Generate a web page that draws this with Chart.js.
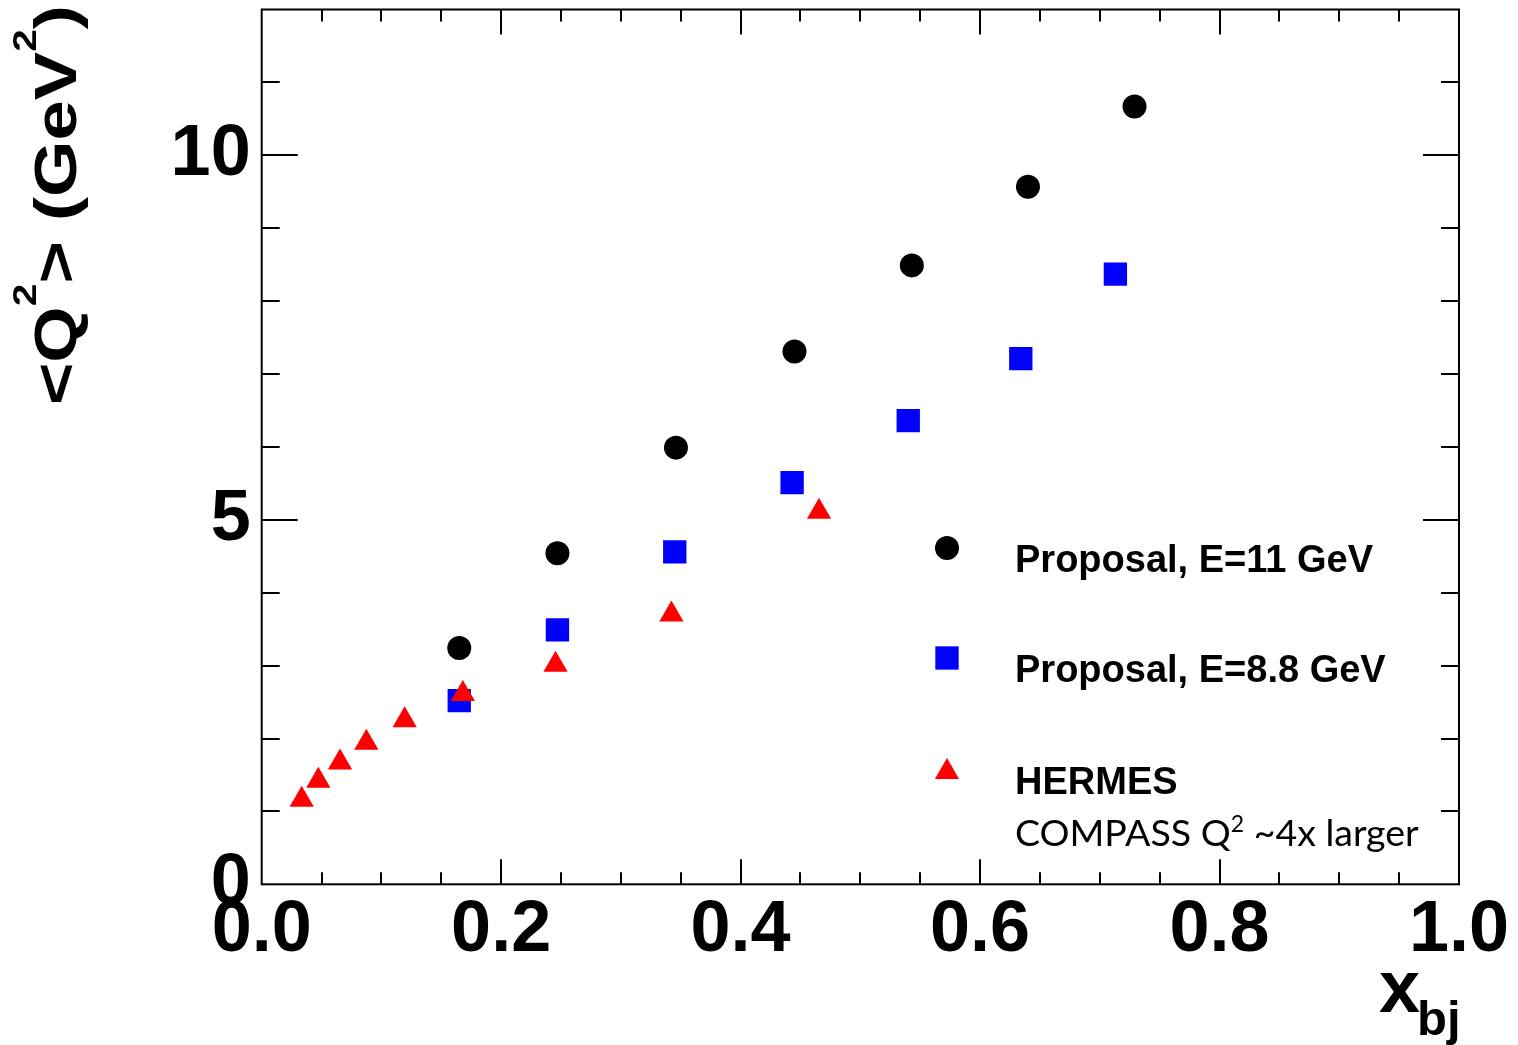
<!DOCTYPE html>
<html>
<head>
<meta charset="utf-8">
<script src="https://cdn.jsdelivr.net/npm/chart.js@4.4.1/dist/chart.umd.min.js"></script>
<style>
  html, body { margin: 0; padding: 0; background: #fff; }
  canvas { display: block; }
</style>
</head>
<body>
<canvas id="q2chart" width="1518" height="1045"></canvas>
<script>
// <Q^2> versus x_bj, two proposal beam energies and the HERMES points
var proposal11_x  = [0.165, 0.247, 0.346, 0.445, 0.543, 0.640, 0.729];
var proposal11_q2 = [3.24, 4.54, 5.99, 7.31, 8.49, 9.57, 10.67];

var proposal88_x  = [0.165, 0.247, 0.345, 0.443, 0.540, 0.634, 0.713];
var proposal88_q2 = [2.52, 3.49, 4.56, 5.51, 6.36, 7.21, 8.37];

var hermes_x  = [0.0334, 0.0473, 0.0654, 0.0874, 0.1194, 0.168, 0.2454, 0.3422, 0.4655];
var hermes_q2 = [1.16, 1.42, 1.67, 1.94, 2.25, 2.61, 3.01, 3.70, 5.11];

var x_tick_values = [0, 0.2, 0.4, 0.6, 0.8, 1.0];
var y_tick_values = [0, 5, 10];

var legend_labels = ["Proposal, E=11 GeV", "Proposal, E=8.8 GeV", "HERMES"];
var legend_note = ["COMPASS Q", "2", " ~4x larger"];

var BOLD = '"Liberation Sans", Arial, sans-serif';

function to_points(xs, ys) {
  var pts = [];
  for (var i = 0; i < xs.length; i++) { pts.push({ x: xs[i], y: ys[i] }); }
  return pts;
}

// draws a run of text pieces side by side, each with its own size and raise
function draw_pieces(ctx, pieces, x, y, family) {
  var cx = x;
  for (var i = 0; i < pieces.length; i++) {
    var p = pieces[i];
    ctx.font = p.weight + ' ' + p.size + 'px ' + family;
    ctx.fillText(p.text, cx, y - (p.raise || 0));
    cx += ctx.measureText(p.text).width;
  }
  return cx - x;
}

function pieces_width(ctx, pieces, family) {
  var w = 0;
  for (var i = 0; i < pieces.length; i++) {
    ctx.font = pieces[i].weight + ' ' + pieces[i].size + 'px ' + family;
    w += ctx.measureText(pieces[i].text).width;
  }
  return w;
}

// box around the plot with inward ticks on all four sides
var frame_plugin = {
  id: 'rootFrame',
  beforeDatasetsDraw: function(chart) {
    var ctx = chart.ctx;
    var a = chart.chartArea;
    var xs = chart.scales.x, ys = chart.scales.y;
    ctx.save();
    ctx.strokeStyle = '#000';
    ctx.lineWidth = 2;
    ctx.beginPath();
    for (var k = 1; k < 20; k++) {
      var v = k * 0.05;
      var px = Math.round(xs.getPixelForValue(v));
      var len = (k % 4 === 0) ? 25 : 12;
      ctx.moveTo(px, a.bottom); ctx.lineTo(px, a.bottom - len);
      ctx.moveTo(px, a.top); ctx.lineTo(px, a.top + len);
    }
    for (var j = 1; j < 12; j++) {
      var py = Math.round(ys.getPixelForValue(j));
      var ylen = (j % 5 === 0) ? 36 : 18;
      ctx.moveTo(a.left, py); ctx.lineTo(a.left + ylen, py);
      ctx.moveTo(a.right, py); ctx.lineTo(a.right - ylen, py);
    }
    ctx.stroke();
    ctx.strokeRect(a.left, a.top, a.right - a.left, a.bottom - a.top);
    ctx.restore();
  },
  afterDraw: function(chart) {
    var ctx = chart.ctx;
    ctx.save();
    ctx.fillStyle = '#000';
    ctx.textBaseline = 'alphabetic';
    ctx.textAlign = 'left';

    // y axis title, rotated
    var ytitle = [
      { text: '<Q', size: 64, weight: 'bold' },
      { text: '2', size: 36, weight: 'bold', raise: 43 },
      { text: '> (GeV', size: 64, weight: 'bold' },
      { text: '2', size: 36, weight: 'bold', raise: 43 },
      { text: ')', size: 64, weight: 'bold' }
    ];
    ctx.save();
    ctx.translate(76, 205);
    ctx.rotate(-Math.PI / 2);
    var tw = pieces_width(ctx, ytitle, BOLD);
    ctx.scale(400 / tw, 0.93);
    draw_pieces(ctx, ytitle, -tw / 2, 0, BOLD);
    ctx.restore();

    // x axis title with subscript
    ctx.font = 'bold 74px ' + BOLD;
    ctx.fillText('x', 1379, 1012);
    ctx.font = 'bold 49px ' + BOLD;
    ctx.fillText('bj', 1417, 1035);

    // legend
    var rows = [548, 658, 772];
    var bases = [572, 682, 794];
    for (var i = 0; i < 3; i++) {
      var ds = chart.data.datasets[i];
      ctx.fillStyle = ds.backgroundColor;
      Chart.helpers.drawPoint(ctx, {
        pointStyle: ds.pointStyle, radius: ds.pointRadius, rotation: 0, borderWidth: 0
      }, 947, rows[i]);
      ctx.fillStyle = '#000';
      ctx.font = 'bold 38px ' + BOLD;
      ctx.fillText(legend_labels[i], 1015, bases[i]);
    }
    draw_pieces(ctx, [
      { text: legend_note[0], size: 37.5, weight: 'normal' },
      { text: legend_note[1], size: 23, weight: 'normal', raise: 14 },
      { text: legend_note[2], size: 37.5, weight: 'normal' }
    ], 1015, 846, 'Lato, "Open Sans", sans-serif');
    ctx.restore();
  }
};

new Chart(document.getElementById('q2chart'), {
  type: 'scatter',
  data: {
    datasets: [
      {
        label: legend_labels[0],
        data: to_points(proposal11_x, proposal11_q2),
        pointStyle: 'circle', pointRadius: 12,
        backgroundColor: '#000000', borderWidth: 0, order: 3
      },
      {
        label: legend_labels[1],
        data: to_points(proposal88_x, proposal88_q2),
        pointStyle: 'rect', pointRadius: 16.5,
        backgroundColor: '#0000ff', borderWidth: 0, order: 2
      },
      {
        label: legend_labels[2],
        data: to_points(hermes_x, hermes_q2),
        pointStyle: 'triangle', pointRadius: 14,
        backgroundColor: '#ff0000', borderWidth: 0, order: 1
      }
    ]
  },
  options: {
    responsive: false,
    animation: false,
    events: [],
    layout: { autoPadding: false, padding: { top: 9.5, right: 59, left: 0, bottom: 0 } },
    plugins: {
      legend: { display: false },
      tooltip: { enabled: false }
    },
    scales: {
      x: {
        type: 'linear', min: 0, max: 1,
        grid: { display: false }, border: { display: false },
        afterBuildTicks: function(scale) {
          scale.ticks = x_tick_values.map(function(v) { return { value: v }; });
        },
        afterFit: function(scale) {
          scale.height = 160.7;
          scale.paddingLeft = 0; scale.paddingRight = 0;
        },
        ticks: {
          color: '#000', padding: -4,
          font: { family: BOLD, size: 72, weight: 'bold' },
          maxRotation: 0, autoSkip: false,
          callback: function(v) { return v.toFixed(1); }
        }
      },
      y: {
        type: 'linear', min: 0, max: 12,
        grid: { display: false }, border: { display: false },
        afterBuildTicks: function(scale) {
          scale.ticks = y_tick_values.map(function(v) { return { value: v }; });
        },
        afterFit: function(scale) {
          scale.width = 261.7;
          scale.paddingTop = 0; scale.paddingBottom = 0;
        },
        ticks: {
          color: '#000', padding: 3,
          font: { family: BOLD, size: 72, weight: 'bold' },
          autoSkip: false,
          callback: function(v) { return String(v); }
        }
      }
    }
  },
  plugins: [frame_plugin]
});
</script>
</body>
</html>
